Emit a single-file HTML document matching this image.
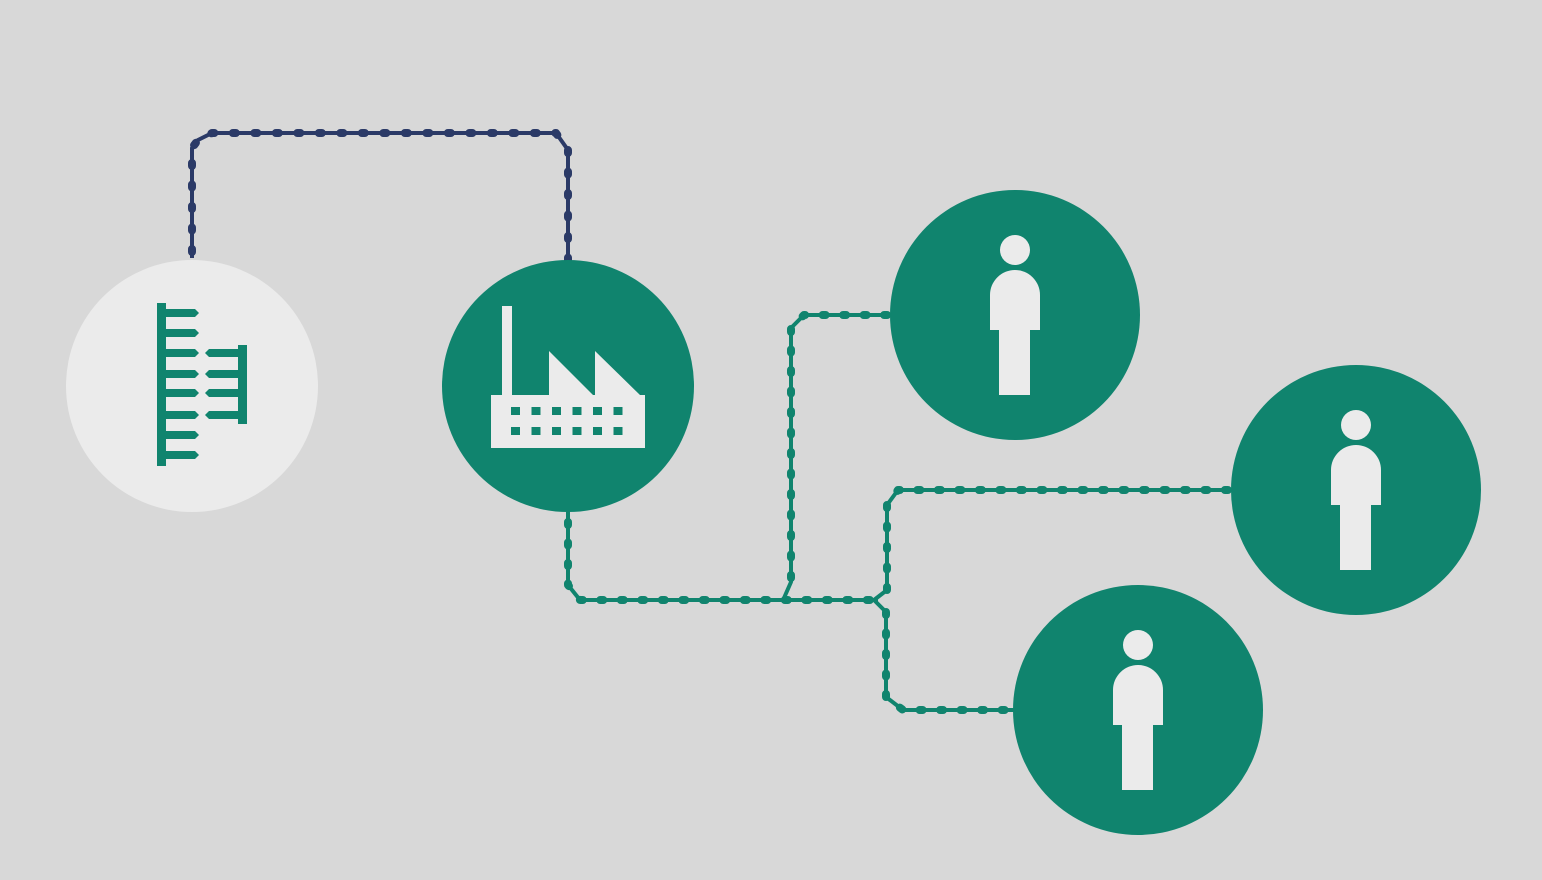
<!DOCTYPE html>
<html><head><meta charset="utf-8"><style>
html,body{margin:0;padding:0;background:#d8d8d8;}
svg{display:block;}
</style></head><body>
<svg width="1542" height="880" viewBox="0 0 1542 880" xmlns="http://www.w3.org/2000/svg">
<rect width="1542" height="880" fill="#d8d8d8"/>
<g fill="none" stroke-linejoin="round">
  <g stroke="#2b3a67">
    <path d="M192 258 V148 L198 140 L212 133 H556 L568 150 V262" stroke-width="4"/>
    <path d="M192 252 V148 L198 140 L212 133 H556 L568 150 V262" stroke-width="8" stroke-dasharray="3 18.5" stroke-linecap="round"/>
  </g>
  <g stroke="#10846e">
    <path d="M568 510 V585 L580 600 H878" stroke-width="4"/>
    <path d="M568 522 V585 L580 600 H878" stroke-width="8" stroke-dasharray="3 17.5" stroke-linecap="round"/>
    <path d="M784 598 L791 582 V328 L804 315 H890" stroke-width="4"/>
    <path d="M791 578 V328 L804 315 H890" stroke-width="8" stroke-dasharray="3 17.5" stroke-linecap="round"/>
    <path d="M874 600 L887 590 V505 L898 490 H1232" stroke-width="4"/>
    <path d="M887 590 V505 L898 490 H1232" stroke-width="8" stroke-dasharray="3 17.5" stroke-linecap="round"/>
    <path d="M874 600 L886 612 V697 L903 710 H1015" stroke-width="4"/>
    <path d="M886 612 V697 L903 710 H1015" stroke-width="8" stroke-dasharray="3 17.5" stroke-linecap="round"/>
  </g>
</g>
<circle cx="192" cy="386" r="126" fill="#ebebeb"/>
<circle cx="568" cy="386" r="126" fill="#10846e"/>
<circle cx="1015" cy="315" r="125" fill="#10846e"/>
<circle cx="1356" cy="490" r="125" fill="#10846e"/>
<circle cx="1138" cy="710" r="125" fill="#10846e"/>
<g fill="#10846e">
  <rect x="157" y="303" width="9" height="163"/>
  <g id="t">
    <polygon points="166,309 195,309 199,313 195,317 166,317"/>
  </g>
  <use href="#t" y="20"/><use href="#t" y="40"/><use href="#t" y="61"/>
  <use href="#t" y="80"/><use href="#t" y="102"/><use href="#t" y="122"/><use href="#t" y="142"/>
  <rect x="238" y="345" width="9" height="79"/>
  <g id="u"><polygon points="238,349 209,349 205,353 209,357 238,357"/></g>
  <use href="#u" y="21"/><use href="#u" y="40"/><use href="#u" y="62"/>
</g>
<g fill="#ebebeb">
  <rect x="502" y="306" width="10" height="92"/>
  <polygon points="491,395 549,395 549,351 593,395 595,395 595,351 640,395 645,395 645,448 491,448"/>
</g>
<g fill="#10846e">
  <g id="w"><rect x="511" y="407" width="9" height="8"/><rect x="511" y="427" width="9" height="8"/></g>
  <use href="#w" x="20.5"/><use href="#w" x="41"/><use href="#w" x="61.5"/><use href="#w" x="82"/><use href="#w" x="102.5"/>
</g>
<g id="p" fill="#ebebeb">
  <circle cx="1015" cy="250" r="15"/>
  <path d="M990 330 V295 A25 25 0 0 1 1040 295 V330 Z"/>
  <rect x="999" y="328" width="31" height="67"/>
</g>
<use href="#p" x="341" y="175"/>
<use href="#p" x="123" y="395"/>
</svg>
</body></html>
